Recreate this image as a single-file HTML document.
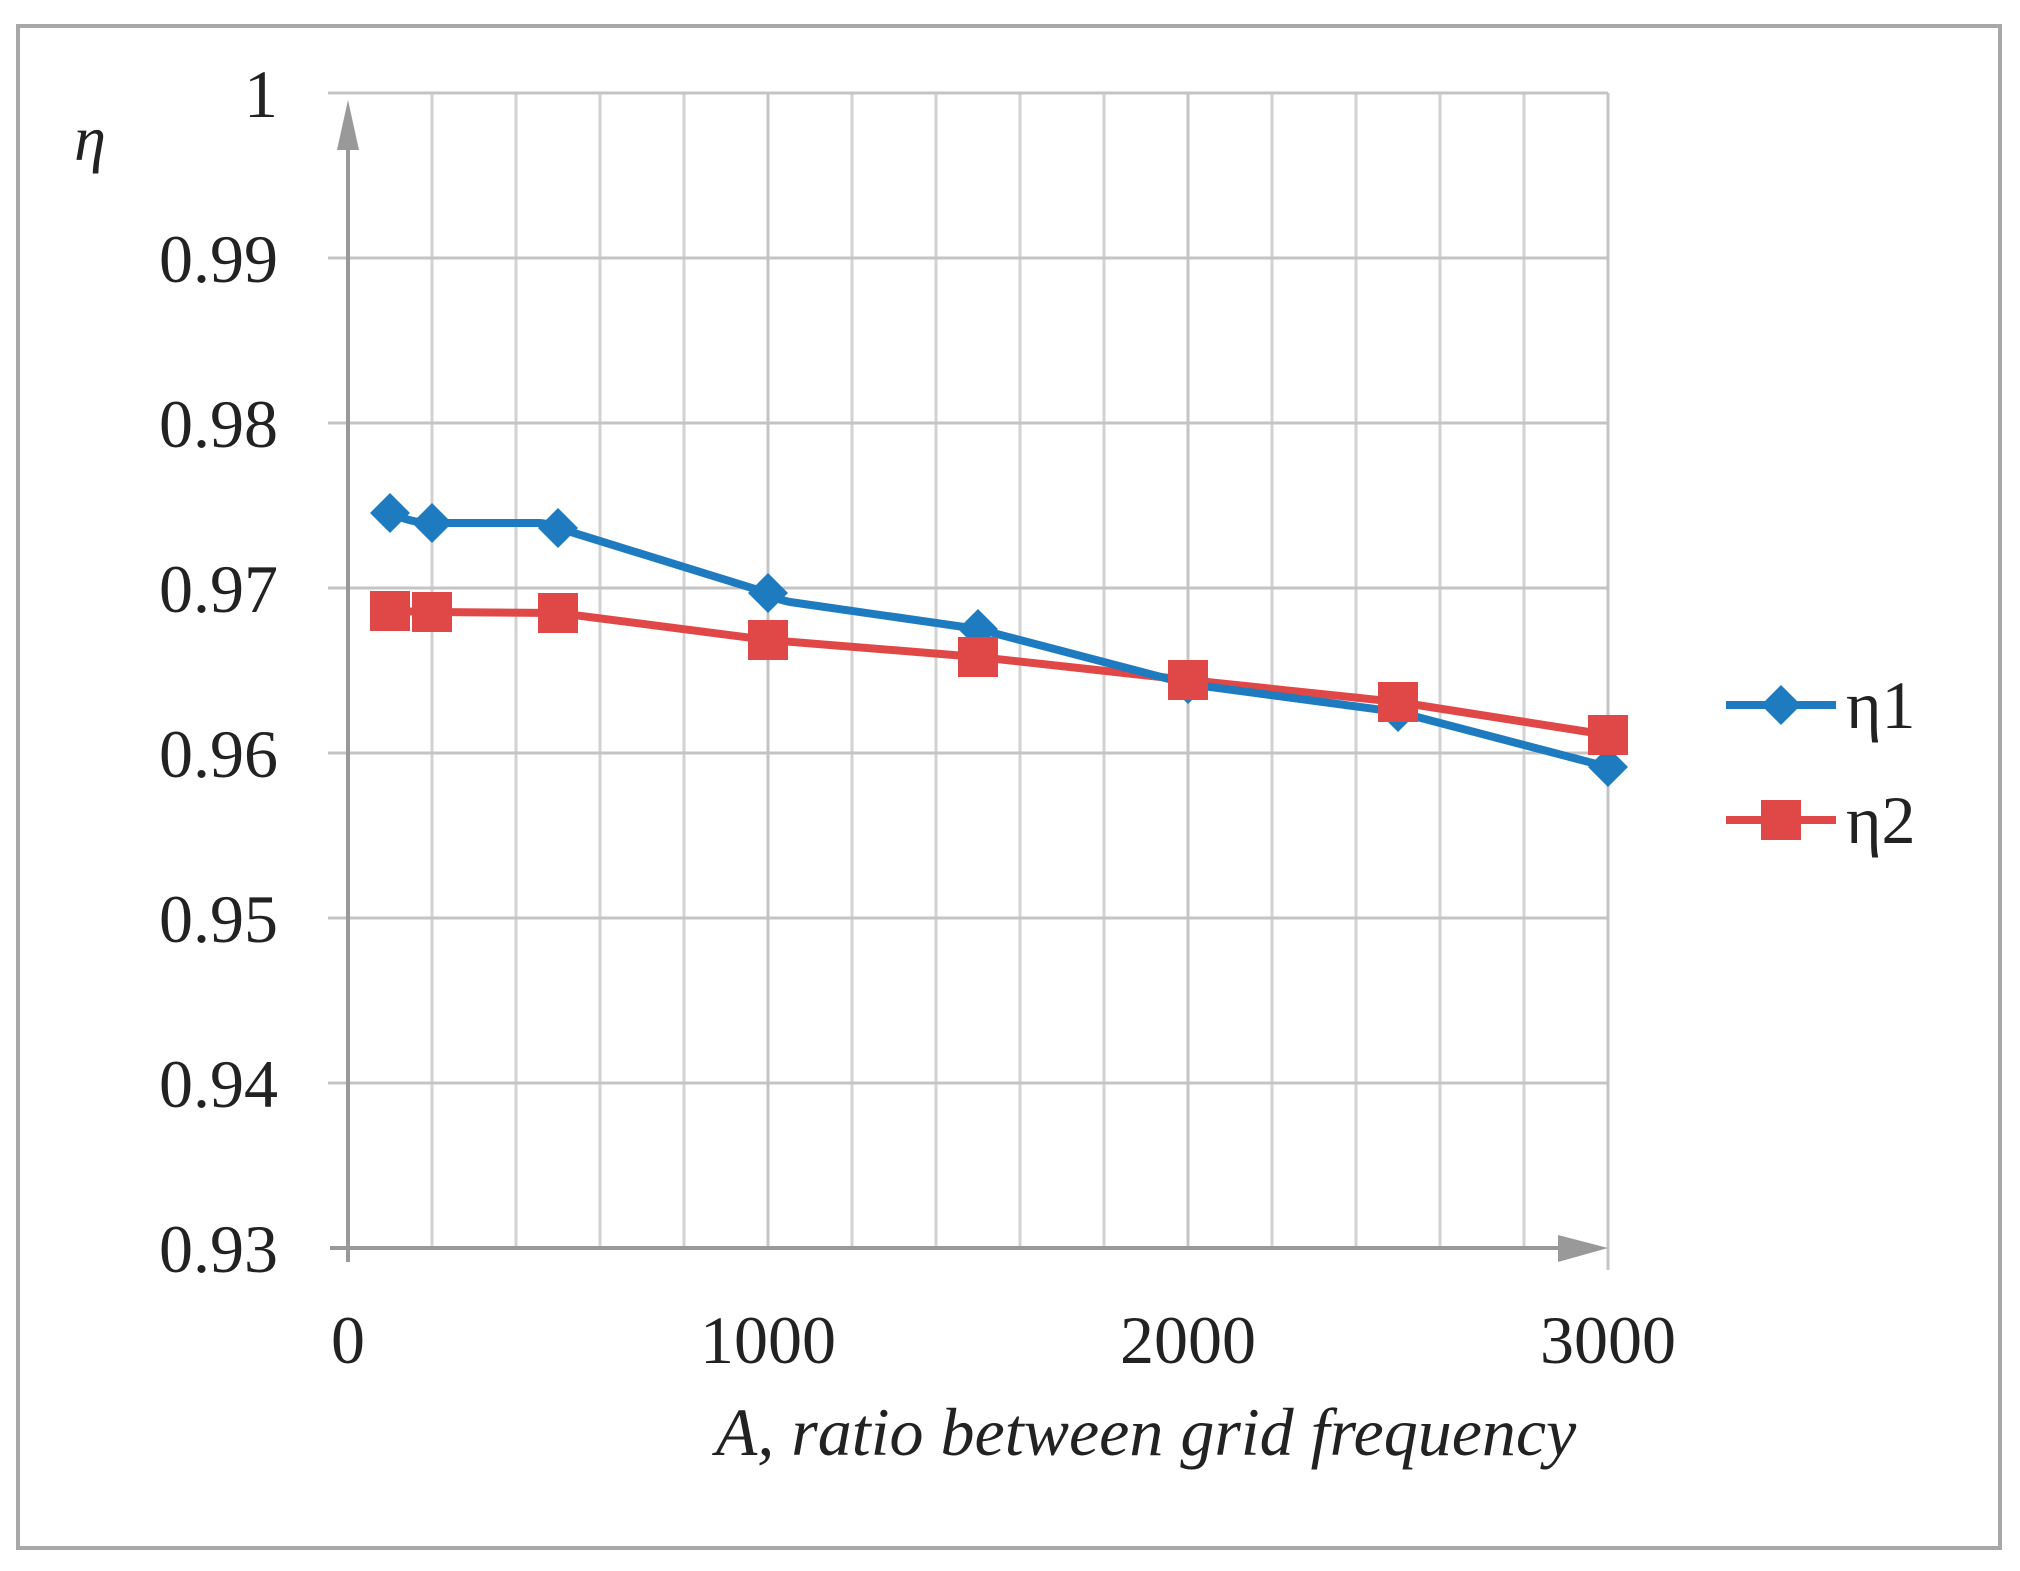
<!DOCTYPE html>
<html><head><meta charset="utf-8"><style>
html,body{margin:0;padding:0;background:#fff;}
svg{display:block;}
</style></head><body>
<svg width="2020" height="1571" viewBox="0 0 2020 1571" xmlns="http://www.w3.org/2000/svg">
<rect x="18" y="26" width="1982" height="1522" fill="#fff" stroke="#a8a8a8" stroke-width="4"/>
<g stroke="#d2d2d2" stroke-width="3">
<line x1="432" y1="93" x2="432" y2="1248"/><line x1="516" y1="93" x2="516" y2="1248"/>
<line x1="600" y1="93" x2="600" y2="1248"/><line x1="684" y1="93" x2="684" y2="1248"/>
<line x1="852" y1="93" x2="852" y2="1248"/><line x1="936" y1="93" x2="936" y2="1248"/>
<line x1="1020" y1="93" x2="1020" y2="1248"/><line x1="1104" y1="93" x2="1104" y2="1248"/>
<line x1="1272" y1="93" x2="1272" y2="1248"/><line x1="1356" y1="93" x2="1356" y2="1248"/>
<line x1="1440" y1="93" x2="1440" y2="1248"/><line x1="1524" y1="93" x2="1524" y2="1248"/>
</g>
<g stroke="#c4c4c4" stroke-width="3">
<line x1="768" y1="93" x2="768" y2="1248"/><line x1="1188" y1="93" x2="1188" y2="1248"/>
<line x1="1608" y1="93" x2="1608" y2="1270"/>
<line x1="328" y1="93" x2="1608" y2="93"/><line x1="328" y1="258" x2="1608" y2="258"/>
<line x1="328" y1="423" x2="1608" y2="423"/><line x1="328" y1="588" x2="1608" y2="588"/>
<line x1="328" y1="753" x2="1608" y2="753"/><line x1="328" y1="918" x2="1608" y2="918"/>
<line x1="328" y1="1083" x2="1608" y2="1083"/>
</g>
<g stroke="#999" stroke-width="4">
<line x1="348" y1="115" x2="348" y2="1262"/>
<line x1="330" y1="1248" x2="1560" y2="1248"/>
</g>
<polygon points="348,100 337,150 359,150" fill="#999"/>
<polygon points="1608,1248 1558,1235 1558,1262" fill="#999"/>
<g font-family="Liberation Serif, serif" font-size="68" fill="#222" text-anchor="end">
<text x="278" y="117">1</text>
<text x="278" y="282">0.99</text>
<text x="278" y="447">0.98</text>
<text x="278" y="612">0.97</text>
<text x="278" y="777">0.96</text>
<text x="278" y="942">0.95</text>
<text x="278" y="1107">0.94</text>
<text x="278" y="1272">0.93</text>
</g>
<g font-family="Liberation Serif, serif" font-size="68" fill="#222" text-anchor="middle">
<text x="348" y="1363">0</text>
<text x="768" y="1363">1000</text>
<text x="1188" y="1363">2000</text>
<text x="1608" y="1363">3000</text>
<text x="1146" y="1455" font-style="italic">A, ratio between grid frequency</text>
</g>
<text x="90" y="160" font-family="Liberation Serif, serif" font-size="64" font-style="italic" fill="#222" text-anchor="middle">η</text>
<polyline fill="none" stroke="#e04848" stroke-width="8" stroke-linejoin="round" points="390,611 432,612 558,613 768,640 978,657 1188,680 1398,702 1608,735"/>
<path fill="none" stroke="#1f7bbf" stroke-width="8" stroke-linejoin="round" d="M390,513 C405,520 420,523 432,523 L540,523 C550,524 555,526 558,528 L768,593 C775,598 780,600 790,602 L978,629 L1188,684 L1398,712 L1608,767"/>
<g fill="#1f7bbf">
<polygon points="390,493 410,513 390,533 370,513"/><polygon points="432,503 452,523 432,543 412,523"/>
<polygon points="558,508 578,528 558,548 538,528"/><polygon points="768,573 788,593 768,613 748,593"/>
<polygon points="978,609 998,629 978,649 958,629"/><polygon points="1188,664 1208,684 1188,704 1168,684"/>
<polygon points="1398,692 1418,712 1398,732 1378,712"/><polygon points="1608,747 1628,767 1608,787 1588,767"/>
</g>
<g fill="#e04848">
<rect x="370" y="591" width="40" height="40"/><rect x="412" y="592" width="40" height="40"/>
<rect x="538" y="593" width="40" height="40"/><rect x="748" y="620" width="40" height="40"/>
<rect x="958" y="637" width="40" height="40"/><rect x="1168" y="660" width="40" height="40"/>
<rect x="1378" y="682" width="40" height="40"/><rect x="1588" y="715" width="40" height="40"/>
</g>
<line x1="1726" y1="705" x2="1836" y2="705" stroke="#1f7bbf" stroke-width="8"/>
<polygon points="1781,685 1801,705 1781,725 1761,705" fill="#1f7bbf"/>
<line x1="1726" y1="820" x2="1836" y2="820" stroke="#e04848" stroke-width="8"/>
<rect x="1761" y="800" width="40" height="40" fill="#e04848"/>
<g font-family="Liberation Serif, serif" font-size="68" fill="#222">
<text x="1846" y="728">η1</text>
<text x="1846" y="843">η2</text>
</g>
</svg>
</body></html>
